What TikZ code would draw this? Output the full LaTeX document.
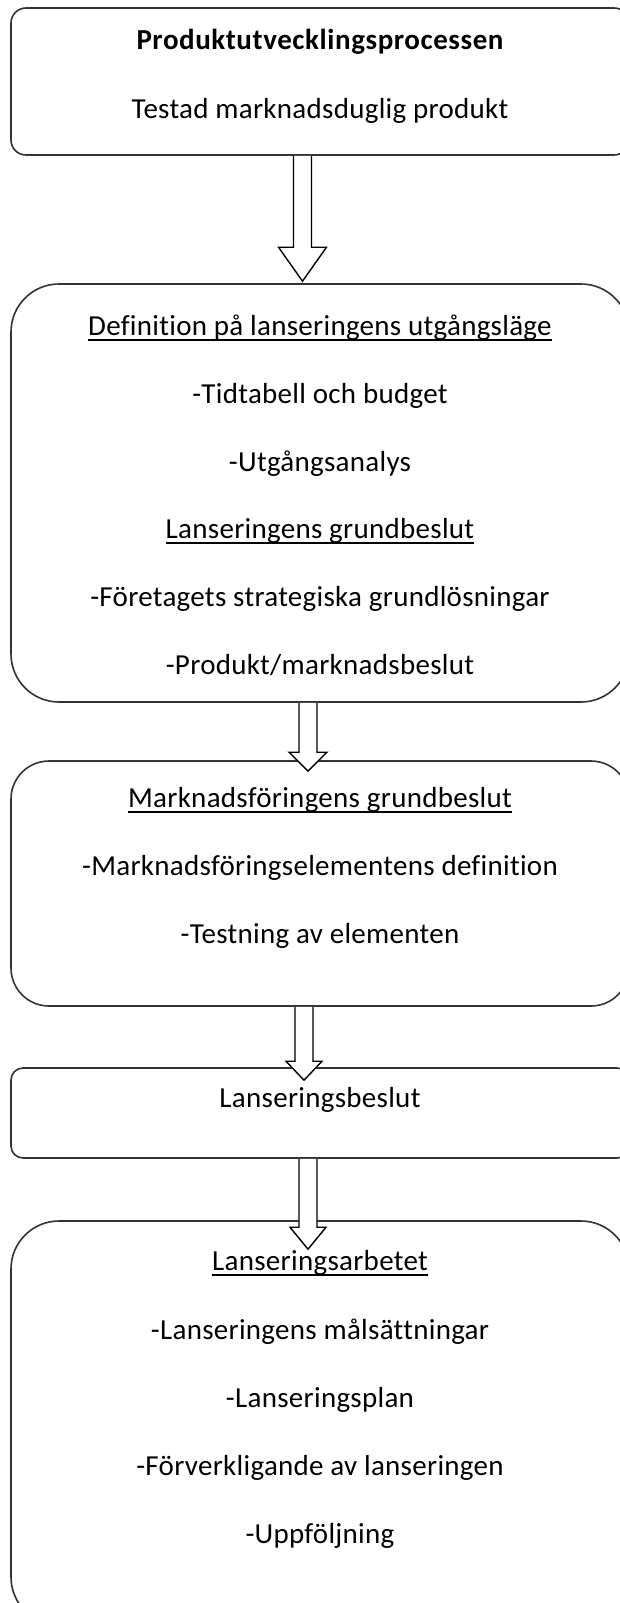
\documentclass[tikz,border=0pt]{standalone}
\usepackage{fontspec}
\setmainfont{Carlito}[Ligatures=NoCommon, LetterSpace=1, BoldFeatures={LetterSpace=2}]
\usetikzlibrary{calc}

% underline close under the baseline, as in the picture
\newcommand{\ulbox}[1]{\setbox0\hbox{#1}\rlap{\rule[-5.5pt]{\wd0}{1.5pt}}\box0}

% hollow block arrow: from, to, x shift, head length, overshoot, head half width
\newcommand{\blockarrow}[6]{%
  \coordinate (top) at ($(#1.south)+(#3,0)$);
  \coordinate (tip) at ($(#2.north)+(#3,#5)$);
  \draw[fatarrow] ($(top)+(-9,0)$) -- ($(tip)+(-9,-#4)$) -- ($(tip)+(-#6,-#4)$)
    -- (tip) -- ($(tip)+(#6,-#4)$) -- ($(tip)+(9,-#4)$) -- ($(top)+(9,0)$);
}

\tikzset{
  box/.style={draw=black!80, line width=1.6pt, minimum width=618pt, inner sep=0pt},
  fatarrow/.style={draw=black, line width=1.4pt, fill=white, line join=miter},
  txt/.style={anchor=base, inner sep=0pt, font=\fontsize{29}{35}\selectfont},
}

\begin{document}
\begin{tikzpicture}[x=1pt, y=-1pt]
  \useasboundingbox (0,0) rectangle (619,1603);

  % Boxes
  \node[box, minimum height=147pt, rounded corners=15pt] (proc) at (320,81.5) {};
  \node[box, minimum height=418pt, rounded corners=48pt] (start) at (320,493) {};
  \node[box, minimum height=245pt, rounded corners=38pt] (mark) at (320,883.5) {};
  \node[box, minimum height=90pt, rounded corners=12pt] (dec) at (320,1113) {};
  \node[box, minimum height=404pt, rounded corners=48pt] (work) at (320,1423) {};

  % Arrows between the boxes
  \blockarrow{proc}{start}{-17.5}{34}{-2}{24}
  \blockarrow{start}{mark}{-12}{19}{11}{19}
  \blockarrow{mark}{dec}{-16}{19}{13}{18}
  \blockarrow{dec}{work}{-12}{22}{29}{18}

  % Texts
  \node[txt] (p1) at (320,50) {\bfseries Produktutvecklingsprocessen};
  \node[txt] (p2) at (320,118) {Testad marknadsduglig produkt};

  \node[txt] (s1) at (320,335) {\ulbox{Definition på lanseringens utgångsläge}};
  \node[txt] (s2) at (320,403) {-Tidtabell och budget};
  \node[txt] (s3) at (320,471) {-Utgångsanalys};
  \node[txt] (s4) at (320,538) {\ulbox{Lanseringens grundbeslut}};
  \node[txt] (s5) at (320,606) {-Företagets strategiska grundlösningar};
  \node[txt] (s6) at (320,674) {-Produkt/marknadsbeslut};

  \node[txt] (m1) at (320,807) {\ulbox{Marknadsföringens grundbeslut}};
  \node[txt] (m2) at (320,875) {-Marknadsföringselementens definition};
  \node[txt] (m3) at (320,943) {-Testning av elementen};

  \node[txt] (d1) at (320,1107) {Lanseringsbeslut};

  \node[txt] (w1) at (320,1270) {\ulbox{Lanseringsarbetet}};
  \node[txt] (w2) at (320,1339) {-Lanseringens målsättningar};
  \node[txt] (w3) at (320,1407) {-Lanseringsplan};
  \node[txt] (w4) at (320,1475) {-Förverkligande av lanseringen};
  \node[txt] (w5) at (320,1543) {-Uppföljning};
\end{tikzpicture}
\end{document}
